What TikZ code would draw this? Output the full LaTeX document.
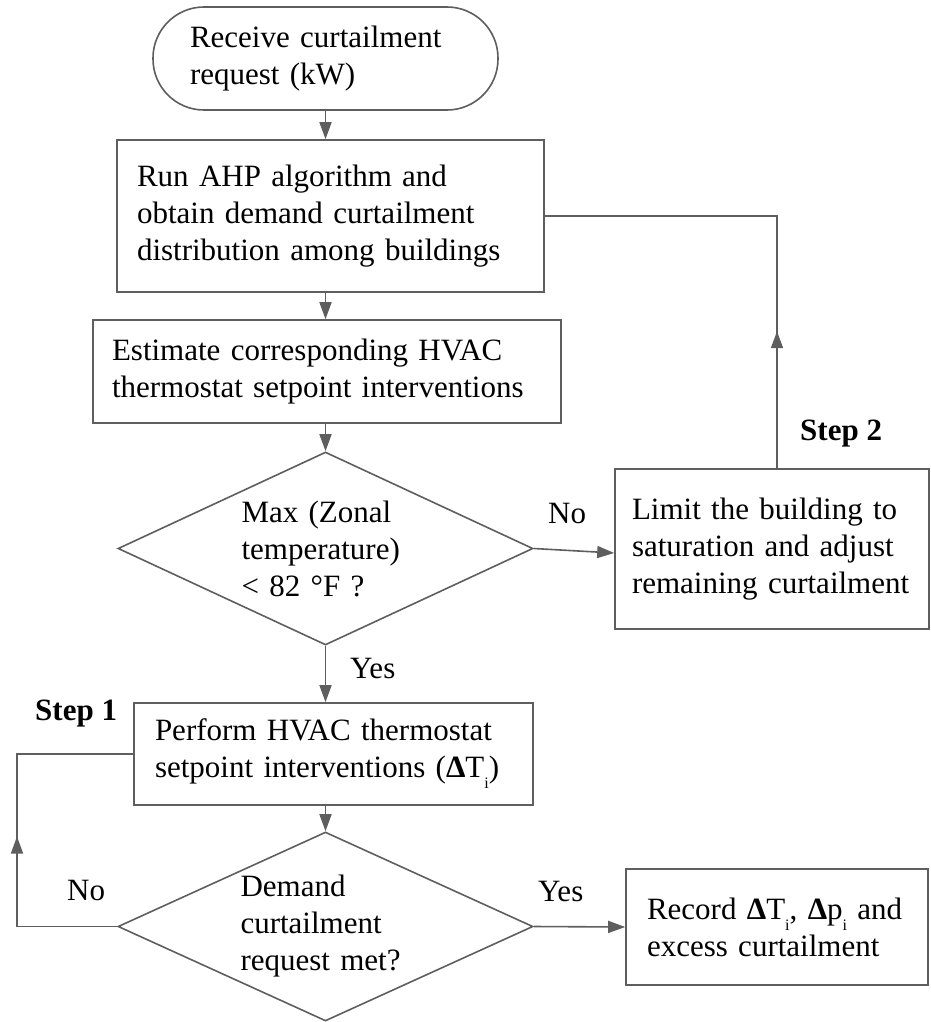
\documentclass[tikz,border=0pt]{standalone}
\usepackage{fontspec}
\setmainfont{Liberation Serif}
\usetikzlibrary{shapes.geometric,arrows.meta}
\definecolor{linegray}{HTML}{5E5E5E}
% lowered small subscript i, as in Delta T_i
\newcommand{\lowi}{\raisebox{-11pt}{\fontsize{16}{16}\selectfont i}}
\begin{document}
\begin{tikzpicture}[x=1pt,y=-1pt,
  every node/.style={font=\fontsize{31}{37}\selectfont, inner sep=0pt},
  box/.style={draw=linegray, line width=1.6pt, rectangle, align=left},
  decision/.style={draw=linegray, line width=1.6pt, diamond, aspect=2.15, align=left},
  flow/.style={draw=linegray, line width=1.6pt, -{Triangle[length=17pt,width=12pt]}},
  plain/.style={draw=linegray, line width=1.6pt},
  tag/.style={anchor=base west},
  steptag/.style={anchor=base west, font=\fontsize{31}{37}\selectfont\bfseries}]
\useasboundingbox (0,0) rectangle (930,1022);

% process blocks
\node[box, rounded corners=51pt, minimum width=345pt, minimum height=103pt, text width=271pt]
  (start) at (325.5,58.5) {Receive curtailment\\request (kW)};
\node[box, minimum width=427pt, minimum height=152pt, text width=387pt]
  (b1) at (330.5,216) {Run AHP algorithm and\\obtain demand curtailment\\distribution among buildings};
\node[box, minimum width=468pt, minimum height=103pt, text width=430pt]
  (b2) at (327,371.5) {Estimate corresponding HVAC\\thermostat setpoint interventions};
\node[decision, minimum width=415pt, minimum height=193pt, text width=168pt]
  (d1) at (325.5,548.5) {Max (Zonal\\temperature)\\< 82 °F ?};
\node[box, minimum width=314pt, minimum height=160pt, text width=280pt]
  (b3) at (772,549) {Limit the building to\\saturation and adjust\\remaining curtailment};
\node[box, minimum width=399pt, minimum height=102pt, text width=357pt]
  (b4) at (333.5,754) {Perform HVAC thermostat\\setpoint interventions (\textbf{Δ}T\lowi)};
\node[decision, minimum width=415pt, minimum height=189pt, text width=170pt]
  (d2) at (325.5,926.5) {Demand\\curtailment\\request met?};
\node[box, minimum width=302pt, minimum height=116pt, text width=260pt]
  (b5) at (777,927) {Record \textbf{Δ}T\lowi, \textbf{Δ}p\lowi{} and\\excess curtailment};

% main flow
\draw[flow] (start.south) -- (start.south |- b1.north);
\draw[flow] (start.south |- b1.south) -- (start.south |- b2.north);
\draw[flow] (start.south |- b2.south) -- (d1.north);
\draw[flow] (d1.south) -- (d1.south |- b4.north);
\draw[flow] (d1.south |- b4.south) -- (d2.north);
\draw[flow] (d1.east) -- ([yshift=-4pt]b3.west);
\draw[flow] (d2.east) -- (b5.west);

% step 2 loop back to the AHP block
\coordinate (r2) at ([xshift=5pt]b3.north);
\draw[plain] (r2) -- (r2 |- b1.east) -- (b1.east);
\draw[flow] (r2) -- ++(0,-137);

% step 1 loop back to the intervention block
\coordinate (l1) at (17,926.5);
\draw[plain] (d2.west) -- (l1) |- (b4.west);
\draw[flow] (l1) -- ++(0,-90);

% labels
\node[tag] (no1) at (548,523) {No};
\node[tag] (yes1) at (350,678) {Yes};
\node[tag] (no2) at (67,900) {No};
\node[tag] (yes2) at (538,901) {Yes};
\node[steptag] (s1) at (35,720) {Step 1};
\node[steptag] (s2) at (800,440) {Step 2};
\end{tikzpicture}
\end{document}
